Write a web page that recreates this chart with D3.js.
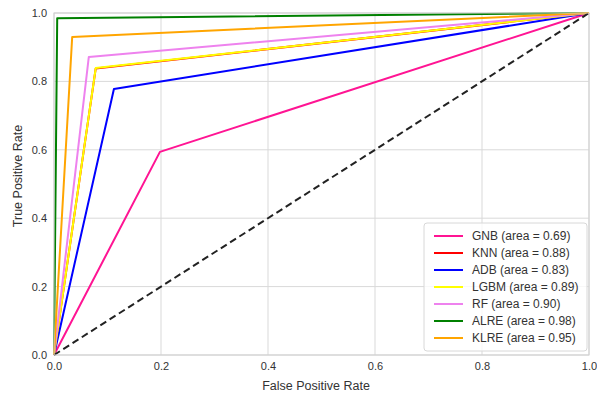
<!DOCTYPE html>
<html>
<head>
<meta charset="utf-8">
<script src="https://cdn.jsdelivr.net/npm/d3@7"></script>
<style>
html,body{margin:0;padding:0;background:#fff;}
svg{display:block;font-family:"Liberation Sans",Arial,sans-serif;}
</style>
</head>
<body>
<svg id="chart" width="597" height="394"></svg>
<script>
const models = ["GNB","KNN","ADB","LGBM","RF","ALRE","KLRE"];
const aucs = ["0.69","0.88","0.83","0.89","0.90","0.98","0.95"];
const colors = ["#ff1493","red","blue","yellow","violet","green","orange"];
const fprs = [
  [0, 0.198, 1],
  [0, 0.078, 1],
  [0, 0.112, 1],
  [0, 0.078, 1],
  [0, 0.065, 1],
  [0, 0.006, 1],
  [0, 0.034, 1]
];
const tprs = [
  [0, 0.594, 1],
  [0, 0.838, 1],
  [0, 0.778, 1],
  [0, 0.839, 1],
  [0, 0.871, 1],
  [0, 0.985, 1],
  [0, 0.930, 1]
];
const ticks = [0, 0.2, 0.4, 0.6, 0.8, 1.0];
const xLabel = "False Positive Rate";
const yLabel = "True Positive Rate";

const svg = d3.select("#chart");
const L = 54, R = 589, T = 13, B = 355;
const x = d3.scaleLinear().domain([0,1]).range([L,R]);
const y = d3.scaleLinear().domain([0,1]).range([B,T]);

// grid
const g = svg.append("g");
g.selectAll(".gx").data(ticks).enter().append("line")
  .attr("x1",d=>x(d)).attr("x2",d=>x(d)).attr("y1",T).attr("y2",B)
  .attr("stroke","#d9d9d9").attr("stroke-width",1);
g.selectAll(".gy").data(ticks).enter().append("line")
  .attr("y1",d=>y(d)).attr("y2",d=>y(d)).attr("x1",L).attr("x2",R)
  .attr("stroke","#d9d9d9").attr("stroke-width",1);

// axes (tick labels only)
const xAxis = d3.axisBottom(x).tickValues(ticks).tickFormat(d3.format(".1f")).tickSize(0).tickPadding(7);
const yAxis = d3.axisLeft(y).tickValues(ticks).tickFormat(d3.format(".1f")).tickSize(0).tickPadding(7);
const gx = svg.append("g").attr("transform",`translate(0,${B})`).call(xAxis);
const gy = svg.append("g").attr("transform",`translate(${L},0)`).call(yAxis);
[gx,gy].forEach(a=>{
  a.select(".domain").remove();
  a.selectAll("text").attr("font-size",11).attr("fill","#333").attr("font-family","Liberation Sans, Arial, sans-serif");
});

// curves
const line = d3.line().x(d=>x(d[0])).y(d=>y(d[1]));
const cg = svg.append("g");
models.forEach((m,i)=>{
  const pts = fprs[i].map((v,j)=>[v,tprs[i][j]]);
  cg.append("path").attr("d",line(pts)).attr("fill","none")
    .attr("stroke",colors[i]).attr("stroke-width",2).attr("stroke-linejoin","round");
});
cg.append("path").attr("d",line([[0,0],[1,1]])).attr("fill","none")
  .attr("stroke","#222").attr("stroke-width",2).attr("stroke-dasharray","7,4");

// frame
svg.append("rect").attr("x",L).attr("y",T).attr("width",R-L).attr("height",B-T)
  .attr("fill","none").attr("stroke","#d0d0d0").attr("stroke-width",1);

// legend
const lg = svg.append("g");
lg.append("rect").attr("x",424).attr("y",223).attr("width",163).attr("height",128)
  .attr("rx",3).attr("fill","#fff").attr("fill-opacity",0.8).attr("stroke","#d8d8d8");
models.forEach((m,i)=>{
  const yy = 236 + i*17;
  lg.append("line").attr("x1",434).attr("x2",463).attr("y1",yy).attr("y2",yy)
    .attr("stroke",colors[i]).attr("stroke-width",2);
  lg.append("text").attr("x",472).attr("y",yy+4).attr("font-size",12).attr("fill","#333")
    .text(`${m} (area = ${aucs[i]})`);
});

// labels
svg.append("text").attr("x",316).attr("y",390).attr("text-anchor","middle")
  .attr("font-size",12.5).attr("fill","#333").text(xLabel);
svg.append("text").attr("transform",`translate(22,176) rotate(-90)`).attr("text-anchor","middle")
  .attr("font-size",12.5).attr("fill","#333").text(yLabel);
</script>
</body>
</html>
